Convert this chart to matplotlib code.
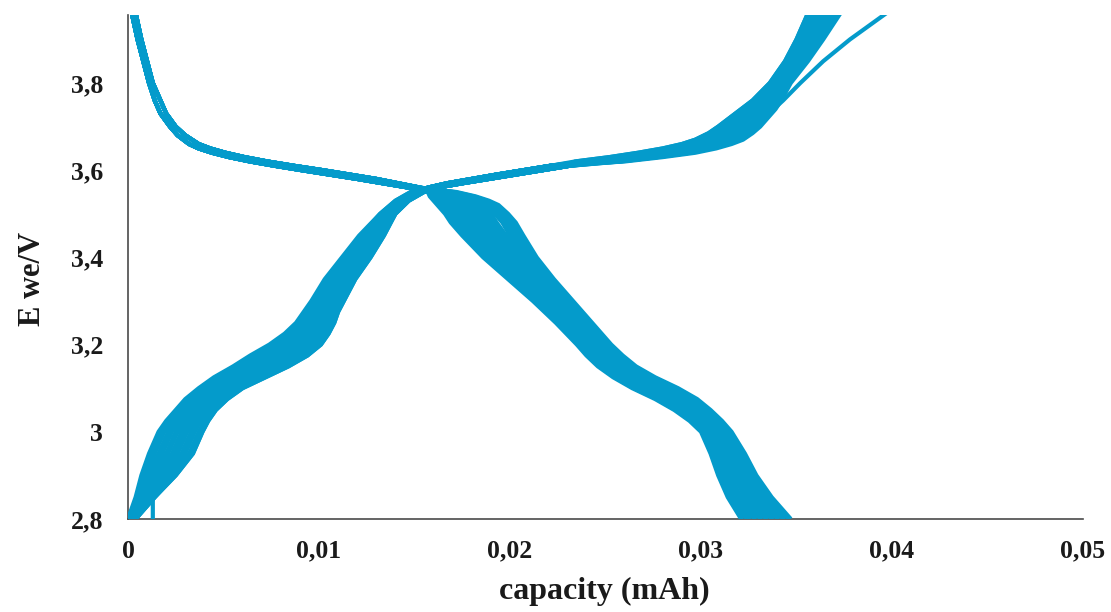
import matplotlib
matplotlib.use("Agg")
import matplotlib.pyplot as plt
from matplotlib.ticker import FixedLocator, FuncFormatter

# Capacities below are written in µAh and converted to mAh when plotted.

# ===================== discharge =====================
# upper plateau, two close traces shared among the cycles
discharge_head_v = [3.96, 3.90, 3.85, 3.80, 3.76, 3.73, 3.70, 3.68, 3.66, 3.65,
                    3.64, 3.63, 3.62, 3.61, 3.60, 3.58, 3.56]
discharge_head_a = [0.2, 0.5, 0.8, 1.1, 1.4, 1.7, 2.2, 2.6, 3.2, 3.7, 4.4, 5.3, 6.4, 7.7, 9.1, 12.0, 14.7]
discharge_head_b = [0.4, 0.7, 1.0, 1.3, 1.7, 2.0, 2.5, 3.0, 3.7, 4.3, 5.1, 6.1, 7.3, 8.7, 10.2, 13.0, 15.3]

# lower branch, one list per cycle
discharge_tail_v = [3.55, 3.54, 3.53, 3.52, 3.50, 3.48, 3.45, 3.40, 3.35, 3.30, 3.25, 3.20,
                    3.175, 3.15, 3.125, 3.10, 3.075, 3.05, 3.025, 3.00, 2.95, 2.90, 2.85, 2.80]
discharge_tails = [
    [15.7, 15.8, 16.0, 16.2, 16.6, 16.9, 17.5, 18.6, 19.9, 21.2, 22.4, 23.5, 24.0, 24.6, 25.4, 26.4, 27.6, 28.6, 29.4, 30.0, 30.5, 30.9, 31.4, 32.1],
    [15.8, 15.9, 16.1, 16.4, 16.8, 17.1, 17.7, 18.7, 20.0, 21.3, 22.5, 23.6, 24.1, 24.7, 25.5, 26.5, 27.7, 28.7, 29.5, 30.1, 30.6, 31.0, 31.5, 32.2],
    [15.8, 16.0, 16.3, 16.5, 16.9, 17.2, 17.8, 18.9, 20.1, 21.4, 22.6, 23.7, 24.2, 24.8, 25.6, 26.6, 27.8, 28.8, 29.6, 30.2, 30.7, 31.1, 31.6, 32.4],
    [15.9, 16.2, 16.4, 16.7, 17.1, 17.4, 18.0, 19.0, 20.3, 21.5, 22.7, 23.8, 24.3, 24.9, 25.7, 26.8, 27.9, 28.9, 29.7, 30.2, 30.8, 31.2, 31.7, 32.5],
    [16.0, 16.3, 16.6, 16.8, 17.3, 17.6, 18.1, 19.2, 20.4, 21.6, 22.8, 23.9, 24.4, 25.0, 25.8, 26.9, 28.0, 29.0, 29.7, 30.3, 30.9, 31.3, 31.9, 32.6],
    [16.1, 16.4, 16.8, 17.0, 17.5, 17.8, 18.3, 19.3, 20.5, 21.7, 22.9, 24.0, 24.5, 25.1, 26.0, 27.0, 28.2, 29.1, 29.8, 30.4, 31.0, 31.4, 32.0, 32.8],
    [16.2, 16.6, 16.9, 17.2, 17.7, 18.0, 18.5, 19.5, 20.7, 21.9, 23.0, 24.1, 24.6, 25.2, 26.1, 27.2, 28.3, 29.2, 29.9, 30.5, 31.1, 31.5, 32.1, 32.9],
    [16.3, 16.7, 17.1, 17.4, 17.9, 18.2, 18.7, 19.7, 20.8, 22.0, 23.1, 24.2, 24.7, 25.4, 26.2, 27.3, 28.4, 29.3, 30.0, 30.6, 31.2, 31.7, 32.3, 33.1],
    [16.4, 16.9, 17.3, 17.6, 18.1, 18.4, 18.9, 19.8, 21.0, 22.1, 23.2, 24.3, 24.8, 25.5, 26.4, 27.5, 28.6, 29.4, 30.1, 30.7, 31.3, 31.8, 32.4, 33.2],
    [16.5, 17.0, 17.5, 17.8, 18.3, 18.6, 19.1, 20.0, 21.1, 22.3, 23.4, 24.4, 25.0, 25.6, 26.5, 27.6, 28.7, 29.6, 30.3, 30.8, 31.4, 31.9, 32.6, 33.4],
    [16.5, 17.1, 17.6, 18.0, 18.4, 18.8, 19.3, 20.1, 21.2, 22.4, 23.4, 24.5, 25.0, 25.7, 26.6, 27.7, 28.8, 29.6, 30.3, 30.9, 31.5, 32.0, 32.7, 33.5],
    [16.6, 17.2, 17.7, 18.1, 18.6, 18.9, 19.4, 20.3, 21.3, 22.5, 23.5, 24.6, 25.1, 25.8, 26.7, 27.8, 28.9, 29.7, 30.4, 31.0, 31.6, 32.1, 32.8, 33.7],
    [16.7, 17.4, 17.9, 18.3, 18.8, 19.1, 19.6, 20.4, 21.5, 22.6, 23.7, 24.7, 25.3, 25.9, 26.9, 28.0, 29.1, 29.9, 30.5, 31.1, 31.7, 32.2, 32.9, 33.8],
    [16.8, 17.5, 18.1, 18.5, 19.0, 19.3, 19.8, 20.6, 21.6, 22.7, 23.8, 24.8, 25.4, 26.0, 27.0, 28.1, 29.2, 30.0, 30.6, 31.2, 31.8, 32.3, 33.1, 34.0],
    [16.9, 17.7, 18.3, 18.7, 19.2, 19.6, 20.0, 20.8, 21.8, 22.8, 23.9, 24.9, 25.5, 26.2, 27.1, 28.3, 29.3, 30.1, 30.7, 31.2, 31.9, 32.5, 33.2, 34.1],
    [17.0, 17.8, 18.4, 18.9, 19.4, 19.8, 20.2, 21.0, 21.9, 23.0, 24.0, 25.0, 25.6, 26.3, 27.2, 28.4, 29.4, 30.2, 30.8, 31.3, 32.0, 32.6, 33.3, 34.3],
    [17.0, 18.0, 18.6, 19.1, 19.6, 20.0, 20.4, 21.1, 22.1, 23.1, 24.1, 25.1, 25.7, 26.4, 27.4, 28.6, 29.6, 30.3, 30.9, 31.4, 32.1, 32.7, 33.5, 34.4],
    [17.1, 18.1, 18.8, 19.2, 19.7, 20.1, 20.5, 21.3, 22.2, 23.2, 24.2, 25.2, 25.8, 26.5, 27.5, 28.7, 29.7, 30.4, 31.0, 31.5, 32.2, 32.8, 33.6, 34.6],
    [17.2, 18.2, 18.9, 19.4, 19.9, 20.3, 20.7, 21.4, 22.3, 23.3, 24.3, 25.3, 25.9, 26.6, 27.6, 28.8, 29.8, 30.5, 31.1, 31.6, 32.3, 32.9, 33.7, 34.7],
]

# ===================== charge =====================
charge_head_v = [2.80, 2.85, 2.90, 2.95, 3.00, 3.025, 3.05, 3.075, 3.10, 3.125, 3.15, 3.175,
                 3.20, 3.225, 3.25, 3.275, 3.30, 3.35, 3.40, 3.45, 3.50, 3.53, 3.55]
charge_heads = [
    [0.0, 0.4, 0.7, 1.1, 1.6, 2.0, 2.5, 3.0, 3.7, 4.5, 5.5, 6.4, 7.4, 8.2, 8.8, 9.2, 9.6, 10.3, 11.2, 12.1, 13.2, 14.0, 14.8],
    [0.0, 0.5, 0.8, 1.2, 1.7, 2.1, 2.6, 3.1, 3.8, 4.6, 5.6, 6.6, 7.5, 8.3, 8.9, 9.3, 9.7, 10.4, 11.3, 12.2, 13.2, 14.0, 14.8],
    [0.0, 0.5, 0.9, 1.3, 1.8, 2.2, 2.7, 3.2, 3.9, 4.8, 5.8, 6.7, 7.7, 8.4, 9.0, 9.4, 9.8, 10.5, 11.4, 12.2, 13.3, 14.1, 14.9],
    [0.1, 0.6, 1.0, 1.4, 1.9, 2.3, 2.8, 3.3, 4.0, 4.9, 5.9, 6.9, 7.8, 8.5, 9.1, 9.5, 9.9, 10.5, 11.4, 12.3, 13.3, 14.1, 14.9],
    [0.1, 0.6, 1.1, 1.6, 2.1, 2.4, 2.9, 3.4, 4.2, 5.0, 6.1, 7.0, 7.9, 8.7, 9.2, 9.6, 9.9, 10.6, 11.5, 12.4, 13.4, 14.1, 14.9],
    [0.1, 0.7, 1.2, 1.7, 2.2, 2.6, 3.0, 3.6, 4.3, 5.2, 6.3, 7.2, 8.1, 8.8, 9.3, 9.7, 10.0, 10.7, 11.6, 12.4, 13.4, 14.2, 15.0],
    [0.1, 0.7, 1.3, 1.8, 2.3, 2.7, 3.1, 3.7, 4.4, 5.4, 6.4, 7.4, 8.3, 8.9, 9.4, 9.8, 10.1, 10.8, 11.7, 12.5, 13.5, 14.2, 15.0],
    [0.2, 0.8, 1.4, 2.0, 2.5, 2.8, 3.3, 3.8, 4.6, 5.5, 6.6, 7.5, 8.4, 9.1, 9.6, 9.9, 10.2, 10.9, 11.8, 12.6, 13.5, 14.3, 15.1],
    [0.2, 0.8, 1.5, 2.1, 2.6, 3.0, 3.4, 4.0, 4.7, 5.7, 6.8, 7.7, 8.6, 9.2, 9.7, 10.0, 10.3, 11.0, 11.9, 12.7, 13.6, 14.3, 15.1],
    [0.2, 0.9, 1.6, 2.3, 2.8, 3.1, 3.6, 4.1, 4.9, 5.9, 7.0, 7.9, 8.8, 9.4, 9.8, 10.1, 10.5, 11.1, 12.0, 12.8, 13.6, 14.4, 15.2],
    [0.2, 1.0, 1.7, 2.4, 2.9, 3.2, 3.7, 4.2, 5.0, 6.0, 7.1, 8.1, 8.9, 9.5, 9.9, 10.2, 10.5, 11.2, 12.0, 12.8, 13.6, 14.4, 15.2],
    [0.2, 1.0, 1.8, 2.5, 3.0, 3.3, 3.8, 4.3, 5.1, 6.1, 7.2, 8.2, 9.0, 9.6, 10.0, 10.3, 10.6, 11.3, 12.1, 12.9, 13.7, 14.4, 15.2],
    [0.3, 1.1, 1.9, 2.6, 3.1, 3.5, 3.9, 4.5, 5.2, 6.3, 7.4, 8.4, 9.2, 9.7, 10.1, 10.4, 10.7, 11.4, 12.2, 13.0, 13.7, 14.5, 15.3],
    [0.3, 1.1, 2.0, 2.8, 3.3, 3.6, 4.0, 4.6, 5.4, 6.4, 7.6, 8.6, 9.3, 9.9, 10.2, 10.5, 10.8, 11.5, 12.3, 13.0, 13.8, 14.5, 15.3],
    [0.3, 1.2, 2.1, 2.9, 3.4, 3.7, 4.1, 4.7, 5.5, 6.6, 7.8, 8.7, 9.5, 10.0, 10.4, 10.6, 10.9, 11.5, 12.4, 13.1, 13.8, 14.5, 15.3],
    [0.3, 1.2, 2.2, 3.0, 3.5, 3.8, 4.3, 4.8, 5.6, 6.8, 7.9, 8.9, 9.7, 10.1, 10.5, 10.7, 11.0, 11.6, 12.5, 13.2, 13.9, 14.6, 15.4],
    [1.3, 1.3, 2.3, 3.2, 3.7, 4.0, 4.4, 5.0, 5.8, 6.9, 8.1, 9.1, 9.8, 10.3, 10.6, 10.8, 11.1, 11.7, 12.6, 13.3, 13.9, 14.6, 15.4],
    [0.4, 1.4, 2.4, 3.3, 3.8, 4.1, 4.5, 5.1, 5.9, 7.1, 8.3, 9.3, 10.0, 10.4, 10.7, 10.9, 11.2, 11.8, 12.6, 13.3, 14.0, 14.7, 15.5],
    [0.4, 1.4, 2.5, 3.4, 3.9, 4.2, 4.6, 5.2, 6.0, 7.2, 8.4, 9.4, 10.1, 10.5, 10.8, 11.0, 11.3, 11.9, 12.7, 13.4, 14.0, 14.7, 15.5],
]

# middle plateau, two close traces shared among the cycles
charge_mid_v = [3.56, 3.57, 3.58, 3.59, 3.60, 3.61]
charge_mid_a = [15.7, 16.7, 18.0, 19.3, 20.7, 22.1]
charge_mid_b = [16.2, 17.5, 18.9, 20.3, 21.7, 23.1]

# upper branch
charge_tail_v = [3.62, 3.63, 3.64, 3.65, 3.66, 3.67, 3.685, 3.70, 3.72, 3.74, 3.76, 3.80, 3.85, 3.90, 3.96]
charge_tails = [
    [23.4, 25.2, 26.7, 28.0, 29.0, 29.7, 30.4, 30.9, 31.5, 32.1, 32.7, 33.6, 34.4, 35.0, 35.6],
    [23.7, 25.5, 27.0, 28.3, 29.3, 30.0, 30.6, 31.1, 31.7, 32.3, 32.9, 33.7, 34.5, 35.1, 35.8],
    [23.9, 25.8, 27.3, 28.6, 29.5, 30.2, 30.9, 31.4, 32.0, 32.5, 33.0, 33.8, 34.6, 35.3, 35.9],
    [24.2, 26.1, 27.7, 28.9, 29.8, 30.5, 31.2, 31.7, 32.2, 32.7, 33.2, 34.0, 34.8, 35.4, 36.1],
    [24.5, 26.4, 28.0, 29.2, 30.1, 30.8, 31.4, 31.9, 32.4, 32.9, 33.4, 34.1, 34.9, 35.6, 36.3],
    [24.8, 26.7, 28.4, 29.5, 30.4, 31.1, 31.7, 32.1, 32.6, 33.1, 33.5, 34.2, 35.1, 35.8, 36.5],
    [25.1, 27.0, 28.7, 29.8, 30.7, 31.4, 32.0, 32.4, 32.9, 33.3, 33.7, 34.3, 35.2, 35.9, 36.7],
    [25.4, 27.4, 29.0, 30.2, 31.0, 31.7, 32.3, 32.7, 33.1, 33.5, 33.9, 34.5, 35.3, 36.1, 36.9],
    [25.7, 27.7, 29.4, 30.5, 31.3, 31.9, 32.5, 32.9, 33.3, 33.7, 34.1, 34.6, 35.5, 36.3, 37.1],
    [26.0, 28.0, 29.7, 30.8, 31.6, 32.2, 32.7, 33.1, 33.5, 33.9, 34.2, 34.7, 35.6, 36.4, 37.3],
]
charge_tail_late = [25.8, 27.7, 29.4, 30.5, 31.4, 32.0, 32.5, 33.0, 33.4, 33.8, 34.3, 35.2, 36.4, 37.8, 39.7]

x_ticks = [0.0, 0.01, 0.02, 0.03, 0.04, 0.05]
y_ticks = [2.8, 3.0, 3.2, 3.4, 3.6, 3.8]

LINE_COLOR = "#049BCB"
LW = 3.0


def to_mah(values):
    return [v / 1000.0 for v in values]


plt.rcParams["font.family"] = ["Liberation Serif", "DejaVu Serif"]
plt.rcParams["font.weight"] = "bold"

fig = plt.figure(figsize=(11.11, 6.12), dpi=100)
ax = fig.add_axes([0.1152, 0.152, 0.8596, 0.8235])

line_kw = dict(color=LINE_COLOR, lw=LW, solid_capstyle="butt", solid_joinstyle="round")

# discharge cycles
for i, tail in enumerate(discharge_tails):
    head = discharge_head_a if i % 2 == 0 else discharge_head_b
    ax.plot(to_mah(head + tail), discharge_head_v + discharge_tail_v, **line_kw)

# charge cycles
n_tails = len(charge_tails)
for i, head in enumerate(charge_heads):
    mid = charge_mid_a if i % 2 == 0 else charge_mid_b
    tail = charge_tails[min(n_tails - 1, i * n_tails // len(charge_heads))]
    ax.plot(to_mah(head + mid + tail), charge_head_v + charge_mid_v + charge_tail_v, **line_kw)
ax.plot(to_mah(charge_heads[-1] + charge_mid_b + charge_tail_late),
        charge_head_v + charge_mid_v + charge_tail_v, **line_kw)

ax.set_xlim(0, 0.05)
ax.set_ylim(2.8, 3.956)

ax.xaxis.set_major_locator(FixedLocator(x_ticks))
ax.yaxis.set_major_locator(FixedLocator(y_ticks))


def comma_fmt(v, _pos):
    if abs(v) < 1e-12:
        return "0"
    s = ("%.2f" % v).rstrip("0").rstrip(".")
    return s.replace(".", ",")


ax.xaxis.set_major_formatter(FuncFormatter(comma_fmt))
ax.yaxis.set_major_formatter(FuncFormatter(comma_fmt))

ax.tick_params(axis="both", length=0, labelsize=18.5, colors="#1a1a1a")
ax.tick_params(axis="x", pad=15)
ax.tick_params(axis="y", pad=18)

for side in ("top", "right"):
    ax.spines[side].set_visible(False)
for side in ("left", "bottom"):
    ax.spines[side].set_color("#4a4a4a")
    ax.spines[side].set_linewidth(1.2)
    ax.spines[side].set_zorder(0.5)

ax.set_xlabel("capacity (mAh)", fontsize=23, fontweight="bold", color="#1a1a1a", va="center")
ax.set_ylabel("E we/V", fontsize=22, fontweight="bold", color="#1a1a1a", va="center")
ax.xaxis.set_label_coords(0.499, -0.143)
ax.yaxis.set_label_coords(-0.1005, 0.476)

fig.savefig("out.png", dpi=100)
